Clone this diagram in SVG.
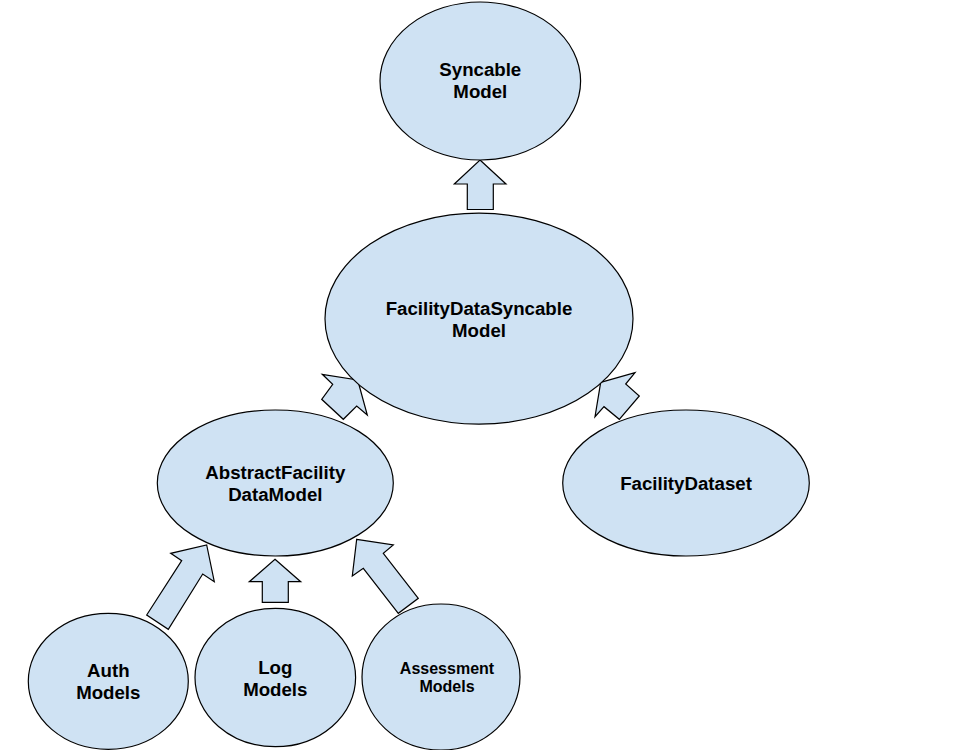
<svg xmlns="http://www.w3.org/2000/svg" width="961" height="750" viewBox="0 0 961 750">
<style>
.n{fill:#cfe2f3;stroke:#000;stroke-width:1.2}
.a{fill:#cfe2f3;stroke:#000;stroke-width:1.2;stroke-linejoin:miter}
text{font-family:"Liberation Sans",Arial,sans-serif;font-weight:bold;font-size:18.67px;fill:#000;text-anchor:middle}
.s{font-size:16px}
</style>
<rect width="961" height="750" fill="#fff"/>
<g id="connectors">
<polygon class="a" points="480,160 506,184 493.3,184 493.3,209.5 467.3,209.5 467.3,184 454.3,184"/>
<polygon class="a" points="357.7,380 367.3,415 356.7,406 343.3,419.3 321.7,399.3 332.7,384.3 322.3,374.3"/>
<polygon class="a" points="600.7,382.3 635,372.7 625.7,384 639.3,396 619.3,419.3 604,406.7 595,416.7"/>
<polygon class="a" points="206.7,545 214.3,581.7 202.7,574 168.3,629.3 146.7,615 181.7,560.7 170.7,553.3"/>
<polygon class="a" points="275,559.3 300.7,581.7 288.3,581.7 288.3,602.3 262.3,602.3 262.3,581.7 249.3,581.7"/>
<polygon class="a" points="356.7,539.3 393.3,545 383.3,553.3 418.3,598.3 398.3,613.3 363.3,568.3 352.3,576"/>
</g>
<g id="syncable-model">
<ellipse class="n" cx="480.3" cy="81" rx="100.3" ry="79"/>
<text x="480.3" y="76">Syncable</text>
<text x="480.3" y="97.5">Model</text>
</g>
<g id="facility-data-syncable-model">
<ellipse class="n" cx="479" cy="318.7" rx="154" ry="105.5"/>
<text x="479" y="315">FacilityDataSyncable</text>
<text x="479" y="336.5">Model</text>
</g>
<g id="abstract-facility-data-model">
<ellipse class="n" cx="275.3" cy="483" rx="118" ry="73"/>
<text x="275.3" y="479.3">AbstractFacility</text>
<text x="275.3" y="500.7">DataModel</text>
</g>
<g id="facility-dataset">
<ellipse class="n" cx="686" cy="483" rx="123.3" ry="73"/>
<text x="686" y="490">FacilityDataset</text>
</g>
<g id="auth-models">
<ellipse class="n" cx="108.3" cy="681.3" rx="80" ry="68"/>
<text x="108.3" y="676.7">Auth</text>
<text x="108.3" y="699">Models</text>
</g>
<g id="log-models">
<ellipse class="n" cx="275.3" cy="677.5" rx="80.3" ry="69.2"/>
<text x="275.3" y="674">Log</text>
<text x="275.3" y="695.7">Models</text>
</g>
<g id="assessment-models">
<ellipse class="n" cx="441" cy="677" rx="79" ry="73"/>
<text class="s" x="447" y="674">Assessment</text>
<text class="s" x="447" y="692.3">Models</text>
</g>
</svg>
